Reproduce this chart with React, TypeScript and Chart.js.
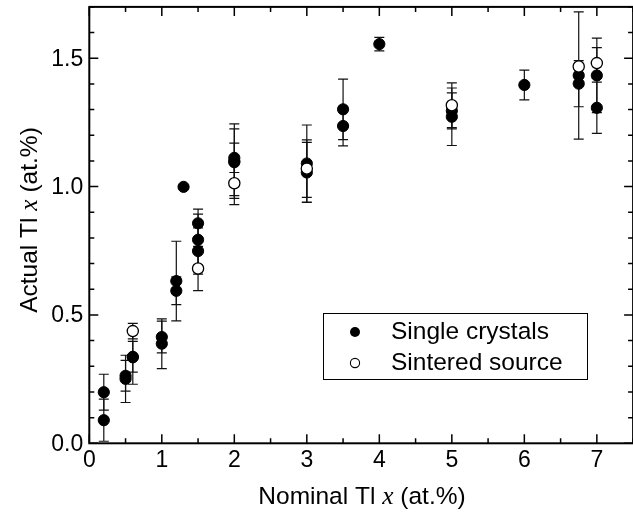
import React, { useEffect, useRef } from "react";
import { Chart, registerables } from "chart.js";

Chart.register(...registerables);

// Single crystals (filled)
const singleX = [0.2, 0.2, 0.5, 0.5, 0.6, 0.6, 1.0, 1.0, 1.2, 1.2, 1.3, 1.5, 1.5, 1.5, 2.0, 2.0, 2.0, 3.0, 3.0, 3.5, 3.5, 4.0, 5.0, 5.0, 6.0, 6.75, 6.75, 7.0, 7.0];
const singleY = [0.199, 0.09, 0.263, 0.251, 0.337, 0.335, 0.414, 0.388, 0.632, 0.594, 0.999, 0.857, 0.793, 0.749, 1.112, 1.099, 1.095, 1.09, 1.055, 1.301, 1.236, 1.555, 1.295, 1.272, 1.396, 1.433, 1.401, 1.433, 1.307];
const singleErr = [0.07, 0.082, 0.06, 0.092, 0.06, 0.105, 0.062, 0.097, 0.155, 0.054, 0.006, 0.055, 0.1, 0.09, 0.057, 0.145, 0.13, 0.15, 0.117, 0.118, 0.077, 0.026, 0.07, 0.112, 0.058, 0.248, 0.09, 0.145, 0.1];

// Sintered source (open)
const sinterX = [0.6, 1.5, 2.0, 3.0, 5.0, 6.75, 7.0];
const sinterY = [0.437, 0.681, 1.013, 1.07, 1.317, 1.468, 1.481];
const sinterErr = [0.03, 0.086, 0.083, 0.112, 0.087, 0, 0.06];

const xTickLabels = ["0", "1", "2", "3", "4", "5", "6", "7"];
const yTickLabels = ["0.0", "0.5", "1.0", "1.5"];
const legendLabels = ["Single crystals", "Sintered source"];

const SANS = "'Liberation Sans', Arial, sans-serif";
const SERIF = "'Liberation Serif', 'Times New Roman', serif";
const TICK_FS = 23;
const FS = 24.5;

function drawSegments(ctx: CanvasRenderingContext2D, segs: { t: string; f: string }[], cx: number, cy: number) {
  let total = 0;
  for (const s of segs) {
    ctx.font = s.f;
    total += ctx.measureText(s.t).width;
  }
  let x = cx - total / 2;
  ctx.textAlign = "left";
  ctx.textBaseline = "middle";
  for (const s of segs) {
    ctx.font = s.f;
    ctx.fillText(s.t, x, cy);
    x += ctx.measureText(s.t).width;
  }
}

const errorBarPlugin = {
  id: "errorBars",
  beforeDatasetsDraw(chart: any) {
    const ctx: CanvasRenderingContext2D = chart.ctx;
    const xs = chart.scales.x;
    const ys = chart.scales.y;
    const sets = [
      { X: singleX, Y: singleY, E: singleErr },
      { X: sinterX, Y: sinterY, E: sinterErr },
    ];
    ctx.save();
    ctx.strokeStyle = "#111";
    ctx.lineWidth = 1.2;
    for (const s of sets) {
      for (let i = 0; i < s.X.length; i++) {
        if (!s.E[i]) continue;
        const px = xs.getPixelForValue(s.X[i]);
        const top = ys.getPixelForValue(s.Y[i] + s.E[i]);
        const bot = ys.getPixelForValue(s.Y[i] - s.E[i]);
        ctx.beginPath();
        ctx.moveTo(px, top);
        ctx.lineTo(px, bot);
        ctx.moveTo(px - 5, top);
        ctx.lineTo(px + 5, top);
        ctx.moveTo(px - 5, bot);
        ctx.lineTo(px + 5, bot);
        ctx.stroke();
      }
    }
    ctx.restore();
  },
  afterDraw(chart: any) {
    const ctx: CanvasRenderingContext2D = chart.ctx;
    const xs = chart.scales.x;
    const ys = chart.scales.y;
    const a = chart.chartArea;
    ctx.save();
    ctx.strokeStyle = "#000";
    ctx.fillStyle = "#000";
    // ticks
    ctx.lineWidth = 1.5;
    ctx.beginPath();
    for (let v = 0; v <= 7.5 + 1e-9; v += 0.5) {
      const major = Math.abs(v - Math.round(v)) < 1e-6;
      const len = major ? 9 : 5;
      const px = xs.getPixelForValue(v);
      ctx.moveTo(px, a.bottom);
      ctx.lineTo(px, a.bottom - len);
      ctx.moveTo(px, a.top);
      ctx.lineTo(px, a.top + len);
    }
    for (let k = 0; k <= 17; k++) {
      const v = k / 10;
      const major = k % 5 === 0;
      const len = major ? 9 : 5;
      const py = ys.getPixelForValue(v);
      ctx.moveTo(a.left, py);
      ctx.lineTo(a.left + len, py);
      ctx.moveTo(a.right, py);
      ctx.lineTo(a.right - len, py);
    }
    ctx.stroke();
    // frame
    ctx.lineWidth = 2;
    ctx.strokeRect(a.left, a.top, a.right - a.left, a.bottom - a.top);

    // tick labels
    ctx.font = `${TICK_FS}px ${SANS}`;
    ctx.textAlign = "center";
    ctx.textBaseline = "top";
    xTickLabels.forEach((l) => {
      ctx.fillText(l, xs.getPixelForValue(parseFloat(l)), a.bottom + 6);
    });
    ctx.textAlign = "right";
    ctx.textBaseline = "middle";
    yTickLabels.forEach((l) => {
      ctx.fillText(l, a.left - 6, ys.getPixelForValue(parseFloat(l)) + 1);
    });

    // axis titles
    drawSegments(
      ctx,
      [
        { t: "Nominal Tl ", f: `${FS}px ${SANS}` },
        { t: "x", f: `italic ${FS + 1}px ${SERIF}` },
        { t: " (at.%)", f: `${FS}px ${SANS}` },
      ],
      362,
      497
    );
    ctx.save();
    ctx.translate(30, 220);
    ctx.rotate(-Math.PI / 2);
    drawSegments(
      ctx,
      [
        { t: "Actual Tl ", f: `${FS}px ${SANS}` },
        { t: "x", f: `italic ${FS + 1}px ${SERIF}` },
        { t: " (at.%)", f: `${FS}px ${SANS}` },
      ],
      0,
      0
    );
    ctx.restore();

    // legend
    ctx.lineWidth = 1;
    ctx.fillStyle = "#fff";
    ctx.fillRect(323, 313, 264, 66);
    ctx.strokeStyle = "#000";
    ctx.strokeRect(323.5, 313.5, 264, 66);
    ctx.fillStyle = "#000";
    ctx.beginPath();
    ctx.arc(355, 332, 5, 0, Math.PI * 2);
    ctx.fill();
    ctx.beginPath();
    ctx.arc(355, 363, 4.6, 0, Math.PI * 2);
    ctx.fillStyle = "#fff";
    ctx.fill();
    ctx.lineWidth = 1.1;
    ctx.stroke();
    ctx.fillStyle = "#000";
    ctx.font = `${FS}px ${SANS}`;
    ctx.textAlign = "left";
    ctx.textBaseline = "middle";
    ctx.fillText(legendLabels[0], 391, 332);
    ctx.fillText(legendLabels[1], 391, 363);
    ctx.restore();
  },
};

export default function App() {
  const ref = useRef<HTMLCanvasElement>(null);
  useEffect(() => {
    document.body.style.margin = "0";
    document.body.style.overflow = "hidden";
    const canvas = ref.current;
    if (!canvas) return;
    const chart = new Chart(canvas, {
      type: "scatter",
      data: {
        datasets: [
          {
            label: legendLabels[1],
            data: sinterX.map((x, i) => ({ x, y: sinterY[i] })),
            backgroundColor: "#fff",
            borderColor: "#000",
            borderWidth: 1.3,
            pointRadius: 5.6,
            order: 0,
          },
          {
            label: legendLabels[0],
            data: singleX.map((x, i) => ({ x, y: singleY[i] })),
            backgroundColor: "#000",
            borderColor: "#000",
            borderWidth: 1,
            pointRadius: 5.6,
            order: 1,
          },
        ],
      },
      options: {
        responsive: false,
        animation: false,
        devicePixelRatio: 1,
        layout: { padding: { left: 89.3, right: 0.7, top: 2.5, bottom: 81.7 } },
        scales: {
          x: { type: "linear", min: 0, max: 7.5, display: false },
          y: { type: "linear", min: 0, max: 1.7, display: false },
        },
        plugins: { legend: { display: false }, tooltip: { enabled: false } },
      },
      plugins: [errorBarPlugin],
    });
    return () => chart.destroy();
  }, []);
  return (
    <div style={{ width: 633, height: 525, overflow: "hidden", background: "#fff" }}>
      <canvas ref={ref} width={640} height={525} style={{ width: 640, height: 525, display: "block" }} />
    </div>
  );
}
